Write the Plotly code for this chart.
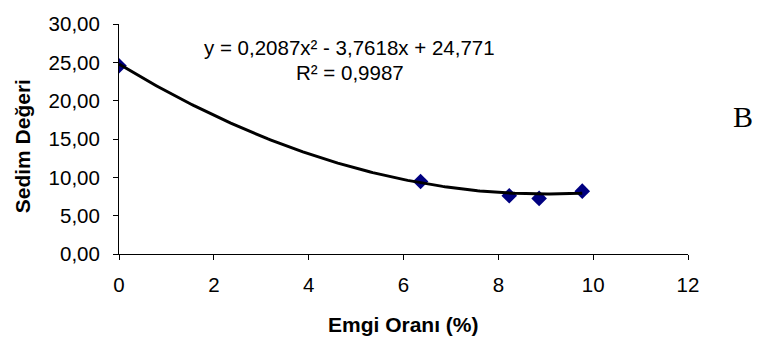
import numpy as np
import plotly.graph_objects as go

# Measured values
emgi_orani = [0.0, 6.36, 8.23, 8.86, 9.77]
sedim_degeri = [24.55, 9.45, 7.60, 7.25, 8.20]

# Second-order polynomial trend line coefficients (y = a*x^2 + b*x + c)
coef_a = 0.2087
coef_b = -3.7618
coef_c = 24.771
r_squared = 0.9987

x_ticks = [0, 2, 4, 6, 8, 10, 12]
y_ticks = [0, 5, 10, 15, 20, 25, 30]

W, H = 757, 349
L, R, T, B = 119, 69, 17, 95

fit_x = np.linspace(min(emgi_orani), max(emgi_orani), 200)
fit_y = coef_a * fit_x**2 + coef_b * fit_x + coef_c

FONT = "Liberation Sans, Arial, sans-serif"

fig = go.Figure()
fig.add_trace(go.Scatter(
    x=emgi_orani, y=sedim_degeri, mode="markers",
    marker=dict(symbol="diamond", size=12, color="#000080", line=dict(width=0)),
    showlegend=False, hoverinfo="x+y",
))
fig.add_trace(go.Scatter(
    x=fit_x, y=fit_y, mode="lines",
    line=dict(color="black", width=3),
    showlegend=False, hoverinfo="skip",
))

def fmt(v, d):
    return f"{v:.{d}f}".replace(".", ",")

eq_text = f"y = {fmt(coef_a, 4)}x² - {fmt(abs(coef_b), 4)}x + {fmt(coef_c, 3)}"
r2_text = f"R² = {fmt(r_squared, 4)}"

def px_x(p):
    return (p - L) / (W - L - R)

def px_y(p):
    return (H - B - p) / (H - B - T)

annotations = [
    dict(text=eq_text, x=px_x(349), y=px_y(41),
         xref="paper", yref="paper", showarrow=False, xanchor="center", yanchor="middle",
         font=dict(family=FONT, size=20.5, color="black")),
    dict(text=r2_text, x=px_x(350), y=px_y(67),
         xref="paper", yref="paper", showarrow=False, xanchor="center", yanchor="middle",
         font=dict(family=FONT, size=20.5, color="black")),
    dict(text="B", x=px_x(743), y=px_y(112),
         xref="paper", yref="paper", showarrow=False, xanchor="center", yanchor="middle",
         font=dict(family="Liberation Serif, Times New Roman, serif", size=30, color="black")),
    dict(text="<b>Sedim Değeri</b>", x=px_x(22), y=px_y(143),
         xref="paper", yref="paper", showarrow=False, xanchor="center", yanchor="middle",
         textangle=-90, font=dict(family=FONT, size=21, color="black")),
    dict(text="<b>Emgi Oranı (%)</b>", x=0.5, y=px_y(327),
         xref="paper", yref="paper", showarrow=False, xanchor="center", yanchor="middle",
         font=dict(family=FONT, size=21, color="black")),
]

fig.update_layout(
    width=W, height=H,
    margin=dict(l=L, r=R, t=T, b=B, pad=0),
    paper_bgcolor="white", plot_bgcolor="white",
    separators=",.",
    annotations=annotations,
    font=dict(family=FONT, size=20.5, color="black"),
)
fig.update_xaxes(
    range=[0, 12], tickvals=x_ticks, ticktext=[str(v) for v in x_ticks],
    showgrid=False, zeroline=False, showline=True, linecolor="black", linewidth=1,
    ticks="outside", ticklen=5, tickcolor="black", tickwidth=1,
    ticklabelstandoff=7, tickfont=dict(family=FONT, size=20.5, color="black"),
)
fig.update_yaxes(
    range=[0, 30], tickvals=y_ticks, ticktext=[fmt(v, 2) for v in y_ticks],
    showgrid=False, zeroline=False, showline=True, linecolor="black", linewidth=1,
    ticks="outside", ticklen=5, tickcolor="black", tickwidth=1,
    ticklabelstandoff=9, tickfont=dict(family=FONT, size=20.5, color="black"),
)

fig.write_html("out.html")
